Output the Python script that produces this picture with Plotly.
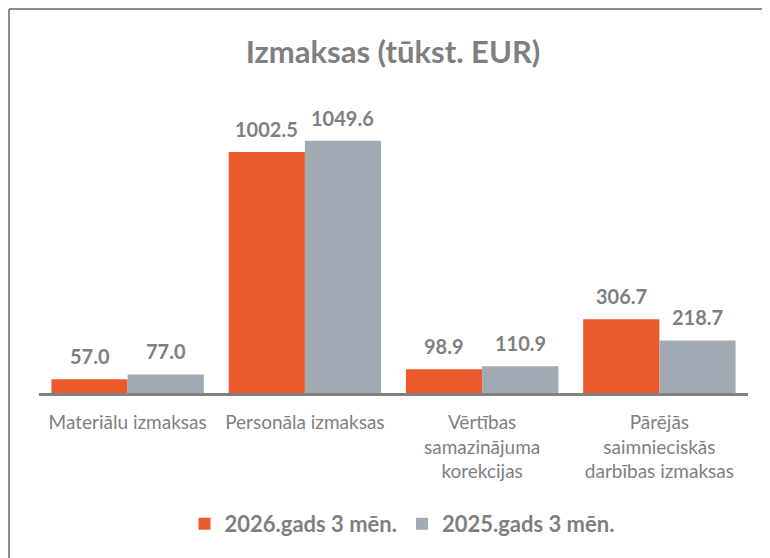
import plotly.graph_objects as go

categories = ["Materiālu izmaksas", "Personāla izmaksas",
              "Vērtības<br>samazinājuma<br>korekcijas",
              "Pārējās<br>saimnieciskās<br>darbības izmaksas"]
series_names = ["2026.gads 3 mēn.", "2025.gads 3 mēn."]
values_2026 = [57.0, 1002.5, 98.9, 306.7]
values_2025 = [77.0, 1049.6, 110.9, 218.7]

colors = ["#EC5A2B", "#A2ABB3"]
GRAY = "#7F7F7F"

W, H = 770, 558
ML, MR, MT, MB = 31, 30, 72, 173
PW, PH = W - ML - MR, H - MT - MB
BARGAP = 0.14
PX_PER_UNIT = 0.2404

def px_x(px):
    return (px - ML) / PW

def px_y(py):
    return (H - MB - py) / PH

fig = go.Figure()
for name, vals, col in zip(series_names, [values_2026, values_2025], colors):
    fig.add_trace(go.Bar(
        name=name, x=categories, y=vals, marker_color=col,
        marker_line_width=0,
    ))

# value labels above bars
cat_px = PW / len(categories)
bar_px = cat_px * (1 - BARGAP) / 2
for i, vals in enumerate([values_2026, values_2025]):
    shift = (i - 0.5) * bar_px
    for c, v in zip(categories, vals):
        fig.add_annotation(x=c, y=v, xref="x", yref="y", text=f"<b>{v:.1f}</b>",
                           showarrow=False, xshift=shift, yshift=23, yanchor="middle",
                           font=dict(family="Lato", size=20, color=GRAY))

fig.update_layout(
    width=W, height=H,
    margin=dict(l=ML, r=MR, t=MT, b=MB),
    paper_bgcolor="white", plot_bgcolor="white",
    barmode="group", bargap=BARGAP, bargroupgap=0,
    title=dict(text="<b>Izmaksas (tūkst. EUR)</b>", x=0.5, xanchor="center",
               y=1 - 44 / H, yanchor="middle",
               font=dict(family="Lato", size=31, color=GRAY)),
    showlegend=True,
    legend=dict(orientation="h", x=px_x(394), xanchor="center", y=px_y(516), yanchor="middle",
                font=dict(family="Lato", size=22, color=GRAY, weight="bold"),
                traceorder="normal"),
    font=dict(family="Lato", color=GRAY),
)
fig.update_xaxes(showline=True, linecolor="#808080", linewidth=3, ticks="",
                 ticklabelstandoff=10,
                 tickfont=dict(family="Lato", size=19, color=GRAY), showgrid=False)
fig.update_yaxes(visible=False, range=[0, PH / PX_PER_UNIT], showgrid=False, zeroline=False)

# outer frame (cropped border)
fig.add_shape(type="line", xref="paper", yref="paper",
              x0=px_x(1), y0=px_y(1), x1=px_x(775), y1=px_y(1),
              line=dict(color="#8C8C8C", width=2))
fig.add_shape(type="line", xref="paper", yref="paper",
              x0=px_x(1), y0=px_y(1), x1=px_x(1), y1=px_y(565),
              line=dict(color="#8C8C8C", width=2))

fig.write_html("out.html")
